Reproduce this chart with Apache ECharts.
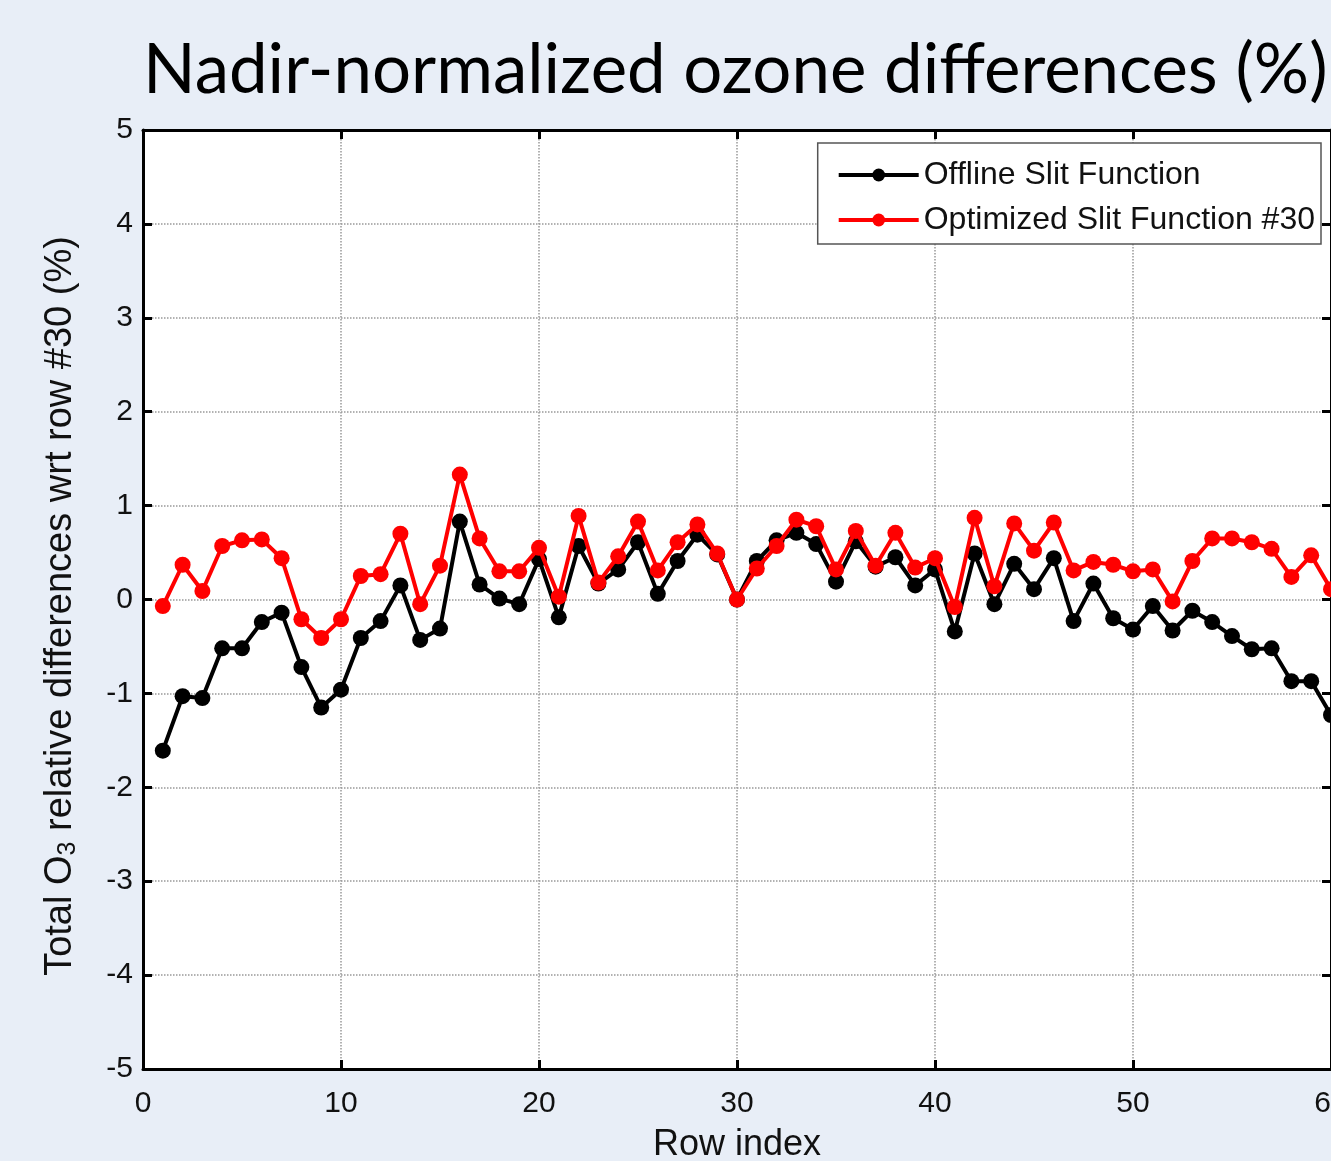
<!DOCTYPE html>
<html><head><meta charset="utf-8">
<script src="https://cdn.jsdelivr.net/npm/echarts@6/dist/echarts.min.js"></script>
<style>html,body{margin:0;padding:0;background:#E8EEF7;}#c{width:1331px;height:1161px;}</style>
</head><body><div id="c"></div>
<script>
const rows = Array.from({length:60},(_,i)=>i+1);
const offline = [-1.61,-1.03,-1.05,-0.52,-0.52,-0.24,-0.14,-0.72,-1.15,-0.96,
 -0.41,-0.23,0.15,-0.43,-0.31,0.83,0.16,0.01,-0.05,0.43,
 -0.19,0.57,0.17,0.32,0.61,0.06,0.41,0.69,0.48,0.0,
 0.41,0.63,0.71,0.59,0.19,0.62,0.35,0.45,0.15,0.32,
 -0.34,0.49,-0.05,0.38,0.11,0.44,-0.23,0.17,-0.2,-0.32,
 -0.07,-0.33,-0.12,-0.24,-0.39,-0.53,-0.52,-0.87,-0.87,-1.23];
const optimized = [-0.07,0.37,0.09,0.57,0.63,0.64,0.44,-0.21,-0.41,-0.21,
 0.25,0.27,0.7,-0.05,0.36,1.33,0.65,0.3,0.3,0.55,
 0.03,0.89,0.18,0.46,0.83,0.31,0.61,0.8,0.49,0.0,
 0.33,0.57,0.85,0.78,0.32,0.73,0.36,0.71,0.34,0.44,
 -0.08,0.87,0.14,0.81,0.52,0.82,0.31,0.4,0.37,0.3,
 0.32,-0.02,0.41,0.65,0.65,0.61,0.54,0.24,0.47,0.11];
const xTicks = [0,10,20,30,40,50,60];
const yTicks = [-5,-4,-3,-2,-1,0,1,2,3,4,5];
const titleText = 'Nadir-normalized ozone differences (%)';
const seriesNames = ['Offline Slit Function','Optimized Slit Function #30'];

const chart = echarts.init(document.getElementById('c'));
const font = 'Liberation Sans, Arial, sans-serif';
const grid = {show:true,lineStyle:{color:'#999',type:'dotted',width:1.5}};
const axisBase = {
  axisLine:{show:true,onZero:false,lineStyle:{color:'#000',width:3}},
  axisTick:{show:true,inside:true,length:9,lineStyle:{color:'#000',width:3}},
  splitLine:{show:false}
};
chart.setOption({
  backgroundColor:'#E8EEF7',
  animation:false,
  title:{text:titleText,left:138,top:31,textStyle:{fontFamily:'Lato, sans-serif',fontWeight:'normal',fontSize:69,color:'#000'}},
  grid:{left:143,right:0,top:130,bottom:92,backgroundColor:'#fff',show:true,borderWidth:0,outerBoundsMode:'none',containLabel:false},
  legend:{
    orient:'vertical',right:10,top:143,
    backgroundColor:'#fff',borderColor:'#555',borderWidth:1.5,borderRadius:0,
    padding:[16,6,8,19],itemGap:13,itemWidth:80,itemHeight:16,
    lineStyle:{width:4},
    textStyle:{fontFamily:font,fontSize:32,color:'#111'},
    data:seriesNames
  },
  xAxis:[
    Object.assign({type:'value',min:0,max:60,interval:10,position:'bottom',
      axisLabel:{fontFamily:font,fontSize:30,color:'#111',margin:20,
        formatter:v=>xTicks.includes(v)?String(v):''},
      name:'Row index',nameLocation:'middle',nameGap:58,
      nameTextStyle:{fontFamily:font,fontSize:36,color:'#111'}},axisBase,{splitLine:grid}),
    Object.assign({type:'value',min:0,max:60,interval:10,position:'top',axisLabel:{show:false}},axisBase)
  ],
  yAxis:[
    Object.assign({type:'value',min:-5,max:5,interval:1,position:'left',
      axisLabel:{fontFamily:font,fontSize:30,color:'#111',margin:10,
        formatter:v=>yTicks.includes(v)?String(v):''},
      name:'Total O{sub|3} relative differences wrt row #30 (%)',nameLocation:'middle',nameGap:62,
      nameTextStyle:{fontFamily:font,fontSize:38,color:'#111',padding:[0,13,0,0],
        rich:{sub:{fontFamily:font,fontSize:25,color:'#111',verticalAlign:'bottom',padding:[16,0,0,0]}}}},axisBase,{splitLine:grid}),
    Object.assign({type:'value',min:-5,max:5,interval:1,position:'right',axisLabel:{show:false}},axisBase)
  ],
  series:[
    {name:seriesNames[0],type:'line',data:rows.map((r,i)=>[r,offline[i]]),
      symbol:'circle',symbolSize:16,lineStyle:{color:'#000',width:4},itemStyle:{color:'#000'},z:3,clip:false},
    {name:seriesNames[1],type:'line',data:rows.map((r,i)=>[r,optimized[i]]),
      symbol:'circle',symbolSize:16,lineStyle:{color:'#f00',width:4},itemStyle:{color:'#f00'},z:4,clip:false}
  ]
});
</script></body></html>
